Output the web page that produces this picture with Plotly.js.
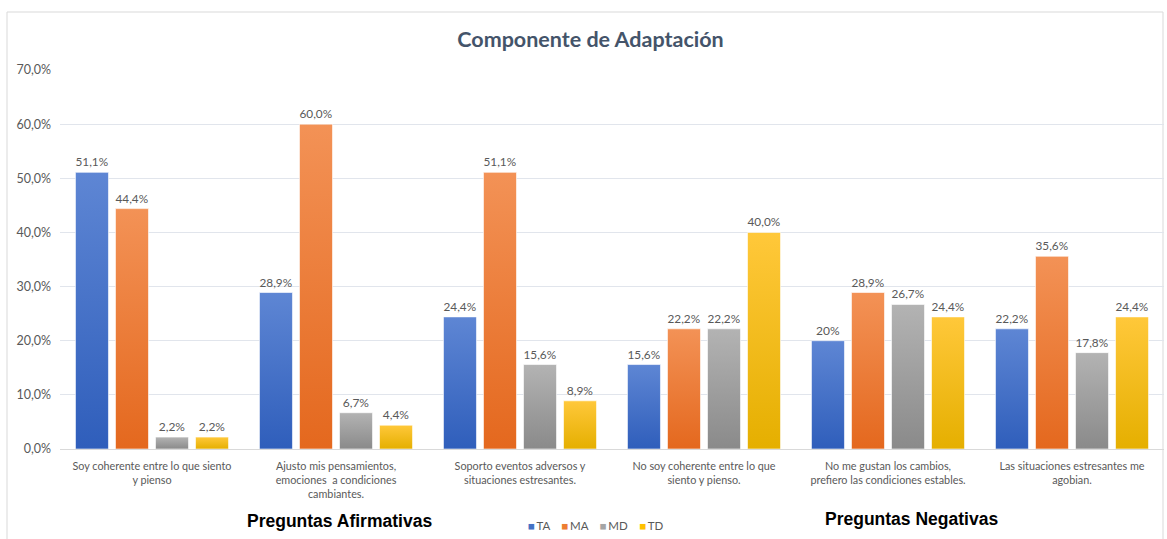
<!DOCTYPE html>
<html>
<head>
<meta charset="utf-8">
<script src="https://cdn.plot.ly/plotly-3.0.1.min.js"></script>
<style>
html,body{margin:0;padding:0;background:#fff;}
#chart{width:1167px;height:539px;}
</style>
</head>
<body>
<div id="chart"></div>
<script>
const categories = [
  "Soy coherente entre lo que siento<br>y pienso",
  "Ajusto mis pensamientos,<br>emociones  a condiciones<br>cambiantes.",
  "Soporto eventos adversos y<br>situaciones estresantes.",
  "No soy coherente entre lo que<br>siento y pienso.",
  "No me gustan los cambios,<br>prefiero las condiciones estables.",
  "Las situaciones estresantes me<br>agobian."
];
const seriesNames = ["TA", "MA", "MD", "TD"];
const TA = [51.1, 28.9, 24.4, 15.6, 20.0, 22.2];
const MA = [44.4, 60.0, 51.1, 22.2, 28.9, 35.6];
const MD = [2.2, 6.7, 15.6, 22.2, 26.7, 17.8];
const TD = [2.2, 4.4, 8.9, 40.0, 24.4, 24.4];
// labels shown without decimals in the original
const integerLabels = {TA: [4]};
const yTicks = [0, 10, 20, 30, 40, 50, 60, 70];

const colors = {TA: "#4472C4", MA: "#ED7D31", MD: "#A5A5A5", TD: "#FFC000"};
const grad = {
  TA: ["#5E86D4", "#2F5EBB"],
  MA: ["#F39256", "#E4681E"],
  MD: ["#B3B3B3", "#8A8A8A"],
  TD: ["#FFC83A", "#E5AF00"]
};
const values = {TA, MA, MD, TD};
const FONT = "Lato, 'Open Sans', sans-serif";

function fmt(v, i, name) {
  const ints = integerLabels[name] || [];
  if (ints.includes(i)) return Math.round(v) + "%";
  return v.toFixed(1).replace(".", ",") + "%";
}

const traces = seriesNames.map(name => ({
  type: "bar",
  name: name,
  x: categories,
  y: values[name],
  text: values[name].map((v, i) => fmt(v, i, name)),
  textposition: "outside",
  cliponaxis: false,
  textfont: {family: FONT, size: 12, color: "#595959"},
  marker: {color: colors[name], line: {color: "rgba(255,255,255,0.6)", width: 1}},
  hoverinfo: "none",
  showlegend: false
}));

const legendText = seriesNames.map(n =>
  "<span style='color:" + colors[n] + "'>■</span>\u2009" + n).join("\u00a0\u00a0\u00a0\u00a0");

// helpers to place page-pixel positions in paper coordinates
const PL = 60, PW = 1104, PB = 449, PH = 379;
const px = x => (x - PL) / PW;
const py = y => (PB - y) / PH;

const layout = {
  width: 1167, height: 539,
  margin: {l: 60, r: 3, t: 70, b: 90, autoexpand: false},
  paper_bgcolor: "#fff", plot_bgcolor: "#fff",
  separators: ",.",
  barmode: "group",
  bargap: 0.13,
  bargroupgap: 0.175,
  showlegend: false,
  title: {
    text: "<b>Componente de Adaptación</b>",
    x: 0.506, xref: "container", xanchor: "center",
    y: 0.926, yref: "container", yanchor: "middle",
    font: {family: FONT, size: 21.5, color: "#44546A"}
  },
  xaxis: {
    type: "category",
    tickfont: {family: FONT, size: 10.8, color: "#595959"},
    ticklabelstandoff: 7,
    showline: true, linecolor: "#D9D9D9", linewidth: 1,
    ticks: "", showgrid: false, fixedrange: true
  },
  yaxis: {
    range: [0, 70],
    tickvals: yTicks,
    ticktext: yTicks.map(v => v.toFixed(1).replace(".", ",") + "%"),
    tickfont: {family: FONT, size: 12.5, color: "#595959"},
    ticklabelstandoff: 8,
    showgrid: true, gridcolor: "#E1E5EC", gridwidth: 1,
    zeroline: false, showline: false, ticks: "", ticklen: 0,
    fixedrange: true
  },
  shapes: [{
    type: "rect", xref: "paper", yref: "paper",
    x0: px(7), x1: px(1163), y0: py(545), y1: py(12),
    line: {color: "#D9D9D9", width: 1}, fillcolor: "rgba(0,0,0,0)", layer: "below"
  }],
  annotations: [
    {text: "<b>Preguntas Afirmativas</b>", xref: "paper", yref: "paper",
     x: px(339), y: py(521), xanchor: "center", yanchor: "middle", showarrow: false,
     font: {family: "'Liberation Sans', Arial, sans-serif", size: 17.5, color: "#000"}},
    {text: "<b>Preguntas Negativas</b>", xref: "paper", yref: "paper",
     x: px(911), y: py(519), xanchor: "center", yanchor: "middle", showarrow: false,
     font: {family: "'Liberation Sans', Arial, sans-serif", size: 17.5, color: "#000"}},
    {text: legendText, xref: "paper", yref: "paper",
     x: px(596), y: py(525), xanchor: "center", yanchor: "middle", showarrow: false,
     font: {family: FONT, size: 11.5, color: "#595959"}}
  ]
};

Plotly.newPlot("chart", traces, layout, {displayModeBar: false, staticPlot: true}).then(gd => {
  const svg = gd.querySelector("svg.main-svg");
  const ns = "http://www.w3.org/2000/svg";
  let defs = svg.querySelector("defs");
  if (!defs) { defs = document.createElementNS(ns, "defs"); svg.insertBefore(defs, svg.firstChild); }
  seriesNames.forEach(name => {
    const lg = document.createElementNS(ns, "linearGradient");
    lg.setAttribute("id", "grad" + name);
    lg.setAttribute("x1", "0"); lg.setAttribute("y1", "0");
    lg.setAttribute("x2", "0"); lg.setAttribute("y2", "1");
    const s1 = document.createElementNS(ns, "stop");
    s1.setAttribute("offset", "0"); s1.setAttribute("stop-color", grad[name][0]);
    const s2 = document.createElementNS(ns, "stop");
    s2.setAttribute("offset", "1"); s2.setAttribute("stop-color", grad[name][1]);
    lg.appendChild(s1); lg.appendChild(s2);
    defs.appendChild(lg);
  });
  const barTraces = gd.querySelectorAll(".barlayer .trace.bars");
  barTraces.forEach((t, idx) => {
    const name = seriesNames[idx];
    t.querySelectorAll(".point path").forEach(p => {
      p.style.fill = "url(#grad" + name + ")";
    });
  });
});
</script>
</body>
</html>
